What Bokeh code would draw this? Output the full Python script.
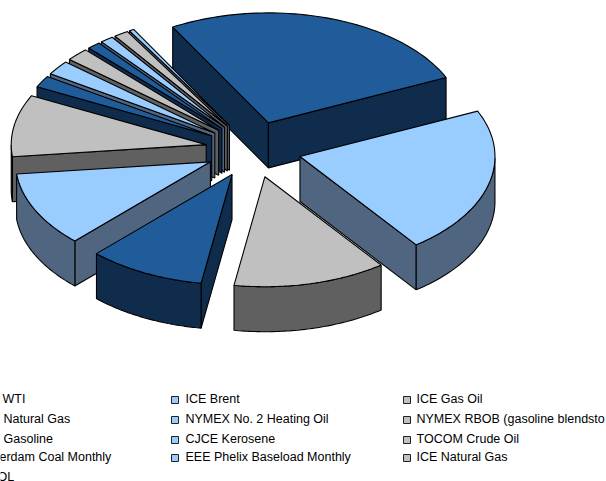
import numpy as np
from bokeh.plotting import figure
from bokeh.models import Range1d
from bokeh.core.properties import value
from bokeh.embed import file_html
from bokeh.resources import INLINE

# Data (share of the pie, percent)
names = ["WTI", "ICE Brent", "ICE Gas Oil", "Natural Gas", "NYMEX No. 2 Heating Oil",
         "NYMEX RBOB (gasoline blendsto", "Gasoline", "CJCE Kerosene", "TOCOM Crude Oil",
         "erdam Coal Monthly", "EEE Phelix Baseload Monthly", "ICE Natural Gas", "OL"]
shares = [26.4, 21.6, 12.7, 9.7, 11.0, 9.1, 1.7, 2.1, 1.9, 1.1, 1.1, 1.2, 0.4]
tone = [0, 1, 2, 0, 1, 2, 0, 1, 2, 0, 1, 2, 1]

top_colors = ["#1F5C99", "#99CCFF", "#C0C0C0"]
side_colors = ["#0F2C4C", "#4F6580", "#606060"]

# Pie geometry in page pixels
CX, CY, RX, RY = 253, 149, 195, 110
EX, EY = 48, 28
DEPTH = 45
FIRST = np.radians(330.6)

p = figure(width=606, height=481, output_backend="svg", toolbar_location=None,
           x_range=Range1d(0, 606), y_range=Range1d(481, 0), min_border=0,
           margin=(0, 0, 0, 0))
p.axis.visible = False
p.grid.visible = False
p.outline_line_color = None
p.background_fill_color = "white"


def poly(xs, ys, color):
    p.patch(list(xs), list(ys), fill_color=color, line_color="black", line_width=1.1)


angles = FIRST + np.cumsum([0] + shares) / 100 * 2 * np.pi
slices = []
for i in range(len(shares)):
    a0, a1 = angles[i], angles[i + 1]
    slices.append((np.cos((a0 + a1) / 2), i, a0, a1))

for _, i, a0, a1 in sorted(slices, key=lambda s: -s[0]):
    mid = (a0 + a1) / 2
    ax = CX + EX * np.sin(mid)
    ay = CY - EY * np.cos(mid)
    t = np.linspace(a0, a1, 60)
    ox = ax + RX * np.sin(t)
    oy = ay - RY * np.cos(t)
    top, side = top_colors[tone[i]], side_colors[tone[i]]
    if np.sin(a0) < 0:
        poly([ax, ox[0], ox[0], ax], [ay, oy[0], oy[0] + DEPTH, ay + DEPTH], side)
    if np.sin(a1) > 0:
        poly([ax, ox[-1], ox[-1], ax], [ay, oy[-1], oy[-1] + DEPTH, ay + DEPTH], side)
    front = np.cos(t) < 0
    if front.sum() > 1:
        fx, fy = ox[front], oy[front]
        poly(np.r_[fx, fx[::-1]], np.r_[fy, fy[::-1] + DEPTH], side)
    poly(np.r_[ax, ox], np.r_[ay, oy], top)

# Legend: three columns, filled row by row; the first column is cut by the left edge
first_col_x = [2, 3, 3, -1, -3]
col_text = [None, 185, 416]
col_box = [None, 171, 403]
row_y = [398, 418, 438, 456, 476]
tx, ty, tt = [], [], []
for i, name in enumerate(names):
    r, c = divmod(i, 3)
    tx.append(first_col_x[r] if c == 0 else col_text[c])
    ty.append(row_y[r]); tt.append(name)
    if col_box[c] is not None:
        bx = col_box[c]
        yc = row_y[r] + 1
        p.patch([bx, bx + 7, bx + 7, bx], [yc - 3, yc - 3, yc + 4, yc + 4],
                fill_color=top_colors[tone[i]], line_color="#222222", line_width=1)
p.text(tx, ty, text=tt, text_font=value("Liberation Sans"), text_font_size="12.5px",
       text_color="black", text_baseline="middle", text_align="left")

open("out.html", "w").write(file_html(p, INLINE))
